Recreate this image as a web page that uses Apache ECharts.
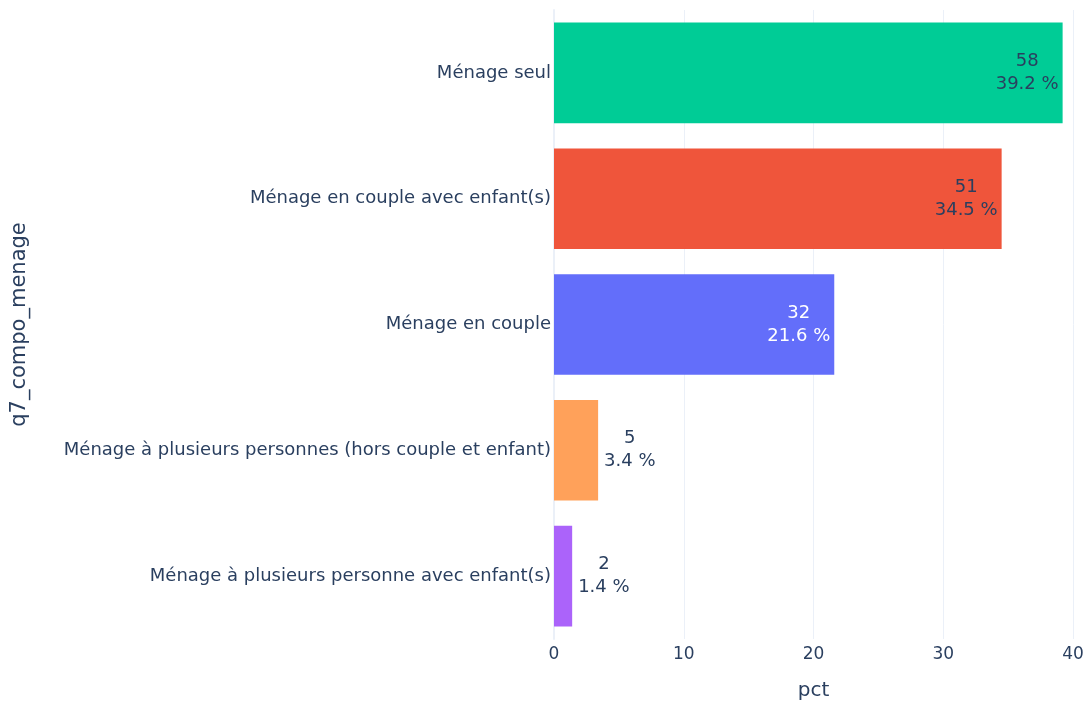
<!DOCTYPE html>
<html>
<head>
<meta charset="utf-8">
<script src="https://cdn.jsdelivr.net/npm/echarts@6/dist/echarts.min.js"></script>
<style>
  html, body { margin: 0; padding: 0; background: #fff; }
  #chart { width: 1089px; height: 706px; }
</style>
</head>
<body>
<div id="chart"></div>
<script>
// households by composition, top to bottom
const categories = [
  'Ménage seul',
  'Ménage en couple avec enfant(s)',
  'Ménage en couple',
  'Ménage à plusieurs personnes (hors couple et enfant)',
  'Ménage à plusieurs personne avec enfant(s)'
];
const counts = [58, 51, 32, 5, 2];
const pct = [39.2, 34.5, 21.6, 3.4, 1.4];
const colors = ['#00CC96', '#EF553B', '#636EFA', '#FFA15A', '#AB63FA'];
const xTicks = [0, 10, 20, 30, 40];

const textColor = '#2a3f5f';
const gridColor = '#EBF0F8';
const font = '"DejaVu Sans", Verdana, sans-serif';

const myChart = echarts.init(document.getElementById('chart'));

const barData = pct.map((v, i) => {
  const inside = v > 10;
  return {
    value: v,
    itemStyle: { color: colors[i] },
    label: {
      position: inside ? 'insideRight' : 'right',
      distance: inside ? 4 : 6,
      formatter: '{a|' + counts[i] + '}\n{a|' + v.toFixed(1) + ' %}',
      rich: {
        a: {
          align: 'center',
          fontSize: 18,
          lineHeight: 23,
          fontFamily: font,
          color: colors[i] === '#636EFA' ? '#ffffff' : textColor
        }
      }
    }
  };
});

const option = {
  animation: false,
  backgroundColor: '#ffffff',
  grid: { left: 554, right: 16, top: 10, bottom: 63 },
  xAxis: {
    type: 'value',
    min: xTicks[0],
    max: xTicks[xTicks.length - 1],
    interval: 10,
    name: 'pct',
    nameLocation: 'middle',
    nameGap: 42,
    nameTextStyle: { color: textColor, fontSize: 20, fontFamily: font },
    axisLine: { show: false },
    axisTick: { show: false },
    axisLabel: { color: textColor, fontSize: 17, fontFamily: font, margin: 7 },
    splitLine: { show: true, lineStyle: { color: gridColor, width: 1 } }
  },
  yAxis: {
    type: 'category',
    data: categories,
    inverse: true,
    name: 'q7_compo_menage',
    nameLocation: 'middle',
    nameRotate: 90,
    nameGap: 524,
    nameTextStyle: { color: textColor, fontSize: 21, fontFamily: font },
    axisLine: { show: true, lineStyle: { color: gridColor, width: 2 } },
    axisTick: { show: false },
    axisLabel: { color: textColor, fontSize: 18, fontFamily: font, margin: 3 },
    splitLine: { show: false }
  },
  series: [{
    type: 'bar',
    data: barData,
    barCategoryGap: '20%',
    label: { show: true }
  }]
};

option && myChart.setOption(option);
window.addEventListener('resize', function () {
  myChart.resize();
});
</script>
</body>
</html>
